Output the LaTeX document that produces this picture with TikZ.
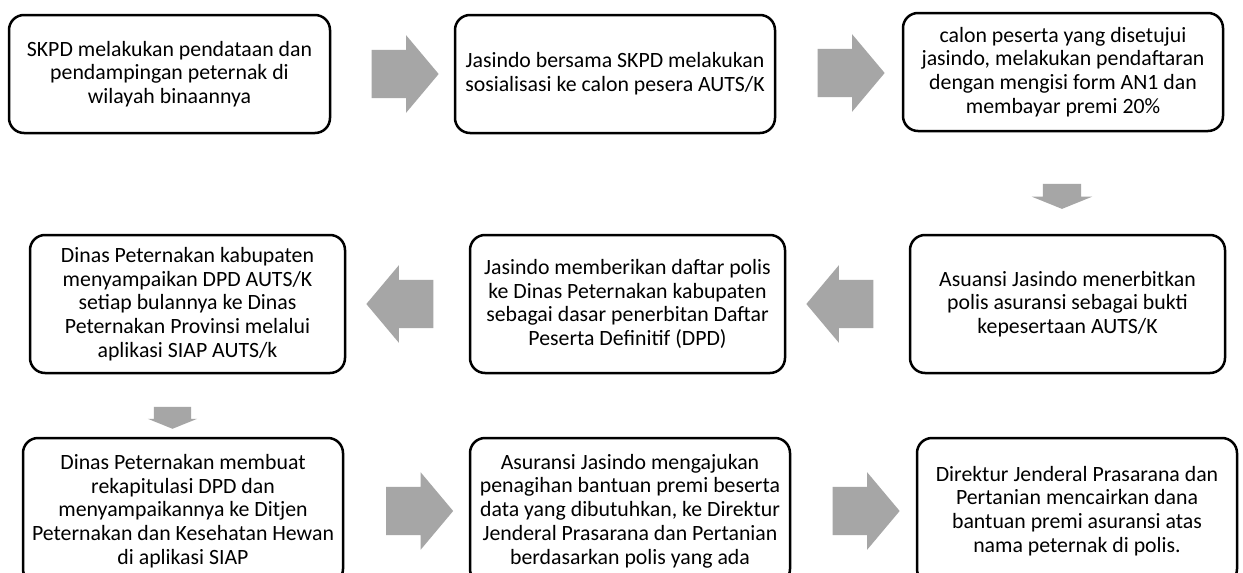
\documentclass[tikz,border=0pt]{standalone}
\usepackage{fontspec}
\setmainfont{Carlito}
\usetikzlibrary{calc,shapes.arrows,positioning}

\definecolor{arrowgray}{HTML}{A6A6A6}

\tikzset{
	stepbox/.style={draw,line width=2.5pt,rounded corners=15pt,align=center,
		inner sep=4pt,font=\fontsize{21.8}{23.8}\selectfont},
	boxrow1/.style={stepbox,minimum height=118pt},
	boxrow2/.style={stepbox,minimum height=138pt},
	boxrow3/.style={stepbox,minimum height=146pt},
	blockarrow/.style={single arrow,fill=arrowgray,draw=none,inner xsep=0pt,
		minimum width=0pt,text height=0pt,text depth=0pt},
	sidearrow/.style={blockarrow,minimum height=67pt,inner ysep=24pt,
		single arrow head extend=14.5pt,single arrow tip angle=100},
	downarrow/.style={blockarrow,rotate=-90,single arrow tip angle=136}
}

\begin{document}
\begin{tikzpicture}[x=1pt,y=-1pt]
	\clip (0,0) rectangle (1243,573);
	\fill[white] (0,0) rectangle (1243,573);

	%top row
	\node[boxrow1,minimum width=321pt] (b1) at (169.5,74) {SKPD melakukan pendataan dan\\pendampingan peternak di\\wilayah binaannya};
	\node[boxrow1,minimum width=320pt] (b2) at (615,74)   {Jasindo bersama SKPD melakukan\\sosialisasi ke calon pesera AUTS/K};
	\node[boxrow1,minimum width=320pt] (b3) at (1063,72)  {calon peserta yang disetujui\\jasindo, melakukan pendaftaran\\dengan mengisi form AN1 dan\\membayar premi 20\%};

	%middle row
	\node[boxrow2,minimum width=315pt] (b4) at (1067.5,304) {Asuansi Jasindo menerbitkan\\polis asuransi sebagai bukti\\kepesertaan AUTS/K};
	\node[boxrow2,minimum width=315pt] (b5) at (627.5,304)  {Jasindo memberikan daftar polis\\ke Dinas Peternakan kabupaten\\sebagai dasar penerbitan Daftar\\Peserta Definitif (DPD)};
	\node[boxrow2,minimum width=315pt] (b6) at (187.5,304)  {Dinas Peternakan kabupaten\\menyampaikan DPD AUTS/K\\setiap bulannya ke Dinas\\Peternakan Provinsi melalui\\aplikasi SIAP AUTS/k};

	%bottom row
	\node[boxrow3,minimum width=320pt] (b7) at (183,511)  {Dinas Peternakan membuat\\rekapitulasi DPD dan\\menyampaikannya ke Ditjen\\Peternakan dan Kesehatan Hewan\\di aplikasi SIAP};
	\node[boxrow3,minimum width=320pt] (b8) at (630,511)  {Asuransi Jasindo mengajukan\\penagihan bantuan premi beserta\\data yang dibutuhkan, ke Direktur\\Jenderal Prasarana dan Pertanian\\berdasarkan polis yang ada};
	\node[boxrow3,minimum width=320pt] (b9) at (1077,511) {Direktur Jenderal Prasarana dan\\Pertanian mencairkan dana\\bantuan premi asuransi atas\\nama peternak di polis.};

	%block arrows
	\node[sidearrow,xshift=2.5pt] (a12) at ($(b1.east)!0.5!(b2.west)$) {};
	\node[sidearrow,xshift=2pt]   (a23) at ($(b2.east)!0.5!(b3.west)$) {};
	\node[downarrow,minimum height=25pt,inner ysep=19pt,single arrow head extend=11pt]
		(a34) at (1062,192.5) {};
	\node[sidearrow,shape border rotate=180,xshift=2.5pt] (a45) at ($(b5.east)!0.5!(b4.west)$) {};
	\node[sidearrow,shape border rotate=180,xshift=2.5pt] (a56) at ($(b6.east)!0.5!(b5.west)$) {};
	\node[downarrow,minimum height=22pt,inner ysep=18.5pt,single arrow head extend=6pt]
		(a67) at (172.5,414) {};
	\node[sidearrow,xshift=3pt] (a78) at ($(b7.east)!0.5!(b8.west)$) {};
	\node[sidearrow,xshift=2.5pt] (a89) at ($(b8.east)!0.5!(b9.west)$) {};
\end{tikzpicture}
\end{document}
